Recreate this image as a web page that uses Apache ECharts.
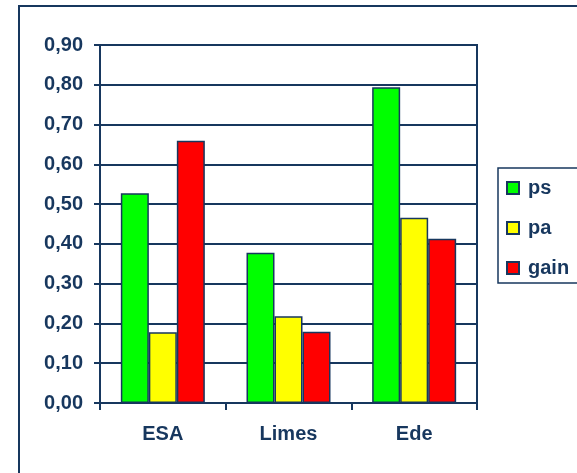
<!DOCTYPE html>
<html>
<head>
<meta charset="utf-8">
<script src="https://cdn.jsdelivr.net/npm/echarts@6/dist/echarts.min.js"></script>
<style>
  html, body { margin: 0; padding: 0; background: #ffffff; }
  #chart { width: 577px; height: 473px; }
</style>
</head>
<body>
<div id="chart"></div>
<script>
// Sites on the category axis
const categories = ['ESA', 'Limes', 'Ede'];

// Series values per site
const psValues = [0.527, 0.378, 0.794];
const paValues = [0.178, 0.218, 0.466];
const gainValues = [0.659, 0.179, 0.413];

// Value axis range and step
const yMin = 0;
const yMax = 0.9;
const yStep = 0.1;

const navy = '#17375e';
const font = '"Liberation Sans", Arial, sans-serif';

const chart = echarts.init(document.getElementById('chart'), null, { renderer: 'canvas' });

function barSeries(name, values, color) {
  return {
    name: name,
    type: 'bar',
    data: values,
    barWidth: 28,
    barGap: '0%',
    itemStyle: { color: color, borderColor: navy, borderWidth: 1.5 },
    emphasis: { disabled: true }
  };
}

chart.setOption({
  animation: false,
  backgroundColor: '#ffffff',
  textStyle: { fontFamily: font },
  graphic: [{
    type: 'rect',
    shape: { x: 19, y: 6, width: 600, height: 500 },
    style: { fill: 'none', stroke: navy, lineWidth: 2 },
    silent: true,
    z: 100
  }],
  grid: {
    left: 100, top: 45, right: 100, bottom: 70,
    show: true, borderColor: navy, borderWidth: 2,
    containLabel: false
  },
  legend: {
    orient: 'vertical',
    left: 498, top: 168,
    padding: [10, 10, 5, 8],
    itemWidth: 12, itemHeight: 12, itemGap: 20,
    icon: 'rect',
    borderColor: navy, borderWidth: 1.5,
    selectedMode: false,
    textStyle: { color: navy, fontSize: 20, fontWeight: 'bold', fontFamily: font, lineHeight: 19, padding: [0, 0, 0, 4] },
    data: ['ps', 'pa', 'gain']
  },
  xAxis: {
    type: 'category',
    data: categories,
    axisLine: { lineStyle: { color: navy, width: 2 } },
    axisTick: { show: true, length: 7, lineStyle: { color: navy, width: 2 } },
    axisLabel: { color: navy, fontSize: 20, fontWeight: 'bold', fontFamily: font, margin: 21 }
  },
  yAxis: {
    type: 'value',
    min: yMin, max: yMax, interval: yStep,
    axisLine: { show: true, lineStyle: { color: navy, width: 2 } },
    axisTick: { show: true, length: 6, lineStyle: { color: navy, width: 2 } },
    splitLine: { show: true, lineStyle: { color: navy, width: 2 } },
    axisLabel: {
      color: navy, fontSize: 20, fontWeight: 'bold', fontFamily: font, margin: 17,
      formatter: v => v.toFixed(2).replace('.', ',')
    }
  },
  series: [
    barSeries('ps', psValues, '#00ff00'),
    barSeries('pa', paValues, '#ffff00'),
    barSeries('gain', gainValues, '#ff0000')
  ]
});
</script>
</body>
</html>
